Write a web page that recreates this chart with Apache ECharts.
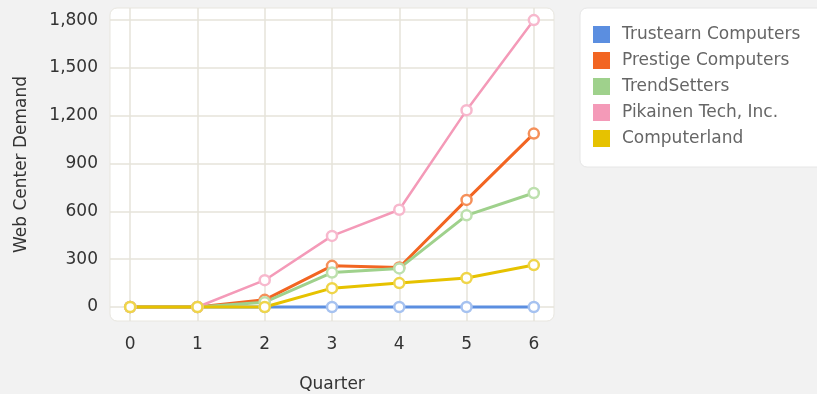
<!DOCTYPE html>
<html>
<head>
<meta charset="utf-8">
<script src="https://cdn.jsdelivr.net/npm/echarts@6/dist/echarts.min.js"></script>
<style>
  html, body { margin: 0; padding: 0; background: #f2f2f2; }
  #main { width: 817px; height: 394px; }
</style>
</head>
<body>
<div id="main"></div>
<script>
// data
var quarters = [0, 1, 2, 3, 4, 5, 6];
var yTicks = [0, 300, 600, 900, 1200, 1500, 1800];
var trustearn = [0, 0, 0, 0, 0, 0, 0];
var prestige = [0, 0, 45, 258, 248, 672, 1088];
var trendSetters = [0, 0, 30, 216, 242, 575, 715];
var pikainen = [0, 0, 168, 446, 610, 1235, 1800];
var computerland = [0, 0, 0, 118, 150, 182, 263];

var names = ['Trustearn Computers', 'Prestige Computers', 'TrendSetters', 'Pikainen Tech, Inc.', 'Computerland'];
var lineColors = ['#5b8ee0', '#f26522', '#9fd18c', '#f49ab8', '#e6c200'];
var markColors = ['#a6c2f0', '#f5905a', '#bde0ae', '#f7b8cd', '#efd54a'];
var values = [trustearn, prestige, trendSetters, pikainen, computerland];

(function () {
    var myChart = echarts.init(document.getElementById('main'));

    var series = names.map(function (n, i) {
        return {
            name: n,
            type: 'line',
            data: quarters.map(function (q, k) { return [q, values[i][k]]; }),
            symbol: 'circle',
            symbolSize: 10,
            lineStyle: { color: lineColors[i], width: i === 3 ? 2.5 : 3 },
            itemStyle: { color: '#fff', borderColor: markColors[i], borderWidth: 2.5 },
            emphasis: { disabled: true }
        };
    });

    var option = {
        backgroundColor: '#f2f2f2',
        animation: false,
        textStyle: { fontFamily: 'DejaVu Sans, sans-serif' },
        graphic: [{
            type: 'rect',
            z: -10,
            shape: { x: 110, y: 8, width: 444, height: 313, r: 7 },
            style: { fill: '#fff', stroke: '#e8e6df', lineWidth: 1 }
        }],
        grid: { left: 110, top: 8, width: 444, height: 313, outerBoundsMode: 'none' },
        legend: {
            left: 580, top: 8,
            orient: 'vertical',
            padding: [18, 40, 20, 13],
            itemGap: 9,
            itemWidth: 17, itemHeight: 17,
            icon: 'rect',
            backgroundColor: '#fff',
            borderColor: '#e6e6e6',
            borderWidth: 1,
            borderRadius: 7,
            textStyle: { fontSize: 17, color: '#666', padding: [0, 0, 0, 7] },
            data: names.map(function (n, i) {
                return { name: n, itemStyle: { color: lineColors[i], borderWidth: 0 } };
            })
        },
        xAxis: {
            type: 'value',
            min: -0.3, max: 6.3,
            name: 'Quarter',
            nameLocation: 'middle',
            nameGap: 55,
            nameTextStyle: { fontSize: 17, color: '#333' },
            axisLine: { show: false },
            axisTick: { show: false, customValues: quarters },
            axisLabel: { customValues: quarters, fontSize: 17, color: '#333', margin: 15 },
            splitLine: { show: true, lineStyle: { color: '#e6e3da', width: 1.5 } }
        },
        yAxis: {
            type: 'value',
            min: -88, max: 1876,
            name: 'Web Center Demand',
            nameLocation: 'middle',
            nameGap: 80,
            nameTextStyle: { fontSize: 17, color: '#333' },
            axisLine: { show: false },
            axisTick: { show: false, customValues: yTicks },
            axisLabel: {
                customValues: yTicks, fontSize: 17, color: '#333', margin: 12,
                formatter: function (v) { return v.toLocaleString('en-US'); }
            },
            splitLine: { show: true, lineStyle: { color: '#e6e3da', width: 1.5 } }
        },
        series: series
    };
    myChart.setOption(option);
})();
</script>
</body>
</html>
